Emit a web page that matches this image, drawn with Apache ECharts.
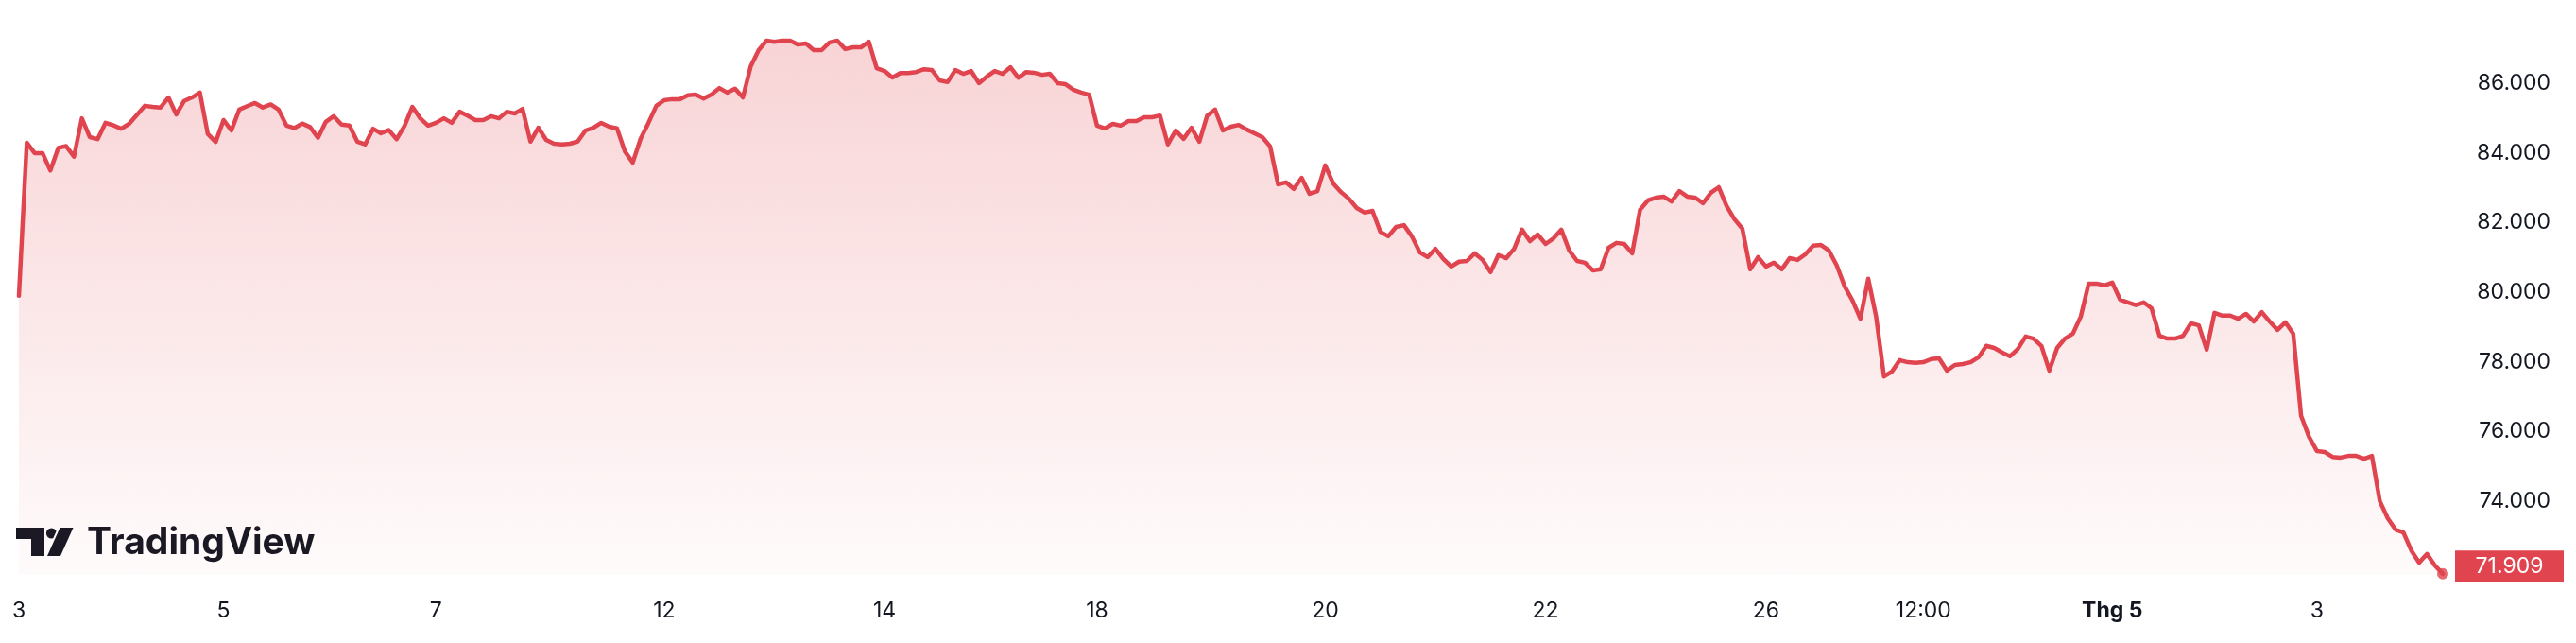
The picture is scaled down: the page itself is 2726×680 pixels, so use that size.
<!DOCTYPE html>
<html>
<head>
<meta charset="utf-8">
<script src="https://cdn.jsdelivr.net/npm/echarts@6/dist/echarts.min.js"></script>
<style>
html,body{margin:0;padding:0;background:#ffffff;}
#chart{width:2726px;height:680px;}
</style>
</head>
<body>
<div id="chart"></div>
<script>
// price series (thousand VND), equally spaced bars
const values = [
79.9, 84.3, 84.0, 84.0, 83.5, 84.15, 84.2, 83.9, 85.0, 84.46,
84.4, 84.87, 84.8, 84.7, 84.84, 85.1, 85.36, 85.33, 85.31, 85.6,
85.11, 85.5, 85.6, 85.74, 84.55, 84.32, 84.95, 84.65, 85.25, 85.35,
85.44, 85.31, 85.4, 85.25, 84.79, 84.72, 84.85, 84.75, 84.44, 84.9,
85.06, 84.82, 84.79, 84.33, 84.25, 84.7, 84.57, 84.66, 84.4, 84.78,
85.33, 85.0, 84.79, 84.87, 85.0, 84.87, 85.19, 85.08, 84.95, 84.95,
85.06, 85.0, 85.19, 85.14, 85.27, 84.33, 84.73, 84.38, 84.27, 84.25,
84.27, 84.33, 84.65, 84.73, 84.87, 84.76, 84.71, 84.05, 83.73, 84.41,
84.87, 85.36, 85.52, 85.55, 85.55, 85.66, 85.68, 85.57, 85.68, 85.87,
85.74, 85.85, 85.6, 86.5, 86.96, 87.23, 87.2, 87.23, 87.23, 87.12,
87.15, 86.96, 86.96, 87.18, 87.23, 86.99, 87.04, 87.04, 87.2, 86.44,
86.36, 86.17, 86.3, 86.3, 86.33, 86.41, 86.39, 86.09, 86.04, 86.39,
86.28, 86.36, 86.01, 86.2, 86.36, 86.28, 86.47, 86.17, 86.33, 86.31,
86.25, 86.28, 86.01, 85.98, 85.82, 85.74, 85.68, 84.79, 84.71, 84.84,
84.79, 84.92, 84.92, 85.03, 85.03, 85.08, 84.25, 84.65, 84.41, 84.73,
84.33, 85.08, 85.25, 84.65, 84.76, 84.81, 84.68, 84.57, 84.46, 84.19,
83.1, 83.16, 82.97, 83.29, 82.83, 82.91, 83.65, 83.13, 82.88, 82.69,
82.42, 82.29, 82.34, 81.74, 81.61, 81.88, 81.93, 81.61, 81.15, 81.01,
81.25, 80.96, 80.74, 80.88, 80.9, 81.12, 80.93, 80.58, 81.07, 80.98,
81.25, 81.8, 81.47, 81.66, 81.39, 81.55, 81.8, 81.2, 80.9, 80.85,
80.63, 80.66, 81.28, 81.42, 81.39, 81.12, 82.37, 82.64, 82.72, 82.75,
82.61, 82.91, 82.75, 82.72, 82.56, 82.86, 83.02, 82.48, 82.1, 81.83,
80.66, 81.01, 80.74, 80.85, 80.66, 80.98, 80.93, 81.09, 81.34, 81.36,
81.2, 80.77, 80.17, 79.76, 79.24, 80.39, 79.3, 77.58, 77.72, 78.05,
77.99, 77.97, 77.99, 78.08, 78.1, 77.75, 77.91, 77.94, 77.99, 78.13,
78.46, 78.4, 78.27, 78.16, 78.37, 78.73, 78.67, 78.46, 77.75, 78.4,
78.67, 78.81, 79.3, 80.25, 80.25, 80.2, 80.28, 79.79, 79.71, 79.63,
79.71, 79.54, 78.75, 78.67, 78.67, 78.75, 79.11, 79.05, 78.35, 79.41,
79.33, 79.33, 79.24, 79.38, 79.16, 79.43, 79.16, 78.92, 79.14, 78.81,
76.45, 75.85, 75.44, 75.41, 75.27, 75.25, 75.3, 75.3, 75.22, 75.3,
74.0, 73.51, 73.18, 73.1, 72.58, 72.23, 72.48, 72.15, 71.909
];
// x-axis tick labels and the bar index where each one sits
const tickLabels = ['3', '5', '7', '12', '14', '18', '20', '22', '26', '12:00', 'Thg 5', '3'];
const tickIndex  = [0, 26, 53, 82, 110, 137, 166, 194, 222, 242, 266, 292];
// y-axis tick values
const yTicks = [74, 76, 78, 80, 82, 84, 86];
const lastPrice = values[values.length - 1];

const categories = values.map(() => '');
tickIndex.forEach((idx, k) => { categories[idx] = tickLabels[k]; });

const RED = '#e0444e';
const TXT = '#131722';
const FONT = 'Inter, "Noto Sans", sans-serif';

const chart = echarts.init(document.getElementById('chart'), null, {renderer: 'canvas'});

chart.setOption({
  animation: false,
  backgroundColor: '#ffffff',
  grid: {left: 20, right: 141, top: 0, bottom: 72.8, containLabel: false},
  xAxis: {
    type: 'category',
    data: categories,
    boundaryGap: false,
    axisLine: {show: false},
    axisTick: {show: false},
    splitLine: {show: false},
    axisLabel: {
      interval: (i, v) => v !== '',
      margin: 27,
      color: TXT,
      fontFamily: FONT,
      fontSize: 23,
      formatter: v => v === 'Thg 5' ? '{b|' + v + '}' : v,
      rich: {b: {fontWeight: 'bold', fontSize: 23, fontFamily: FONT, color: TXT}}
    }
  },
  yAxis: {
    type: 'value',
    position: 'right',
    min: 71.9,
    max: 88.4,
    splitLine: {show: false},
    axisLine: {show: false},
    axisTick: {show: false},
    axisLabel: {
      customValues: yTicks,
      formatter: v => Number(v).toFixed(3),
      align: 'right',
      margin: 114,
      color: TXT,
      fontFamily: FONT,
      fontSize: 23
    }
  },
  series: [
    {
      type: 'line',
      data: values,
      showSymbol: false,
      symbol: 'none',
      clip: false,
      silent: true,
      lineStyle: {color: RED, width: 4.5, join: 'round', cap: 'round'},
      areaStyle: {
        color: {
          type: 'linear', x: 0, y: 0, x2: 0, y2: 1,
          colorStops: [
            {offset: 0, color: 'rgba(226,67,76,0.33)'},
            {offset: 1, color: 'rgba(226,67,76,0.03)'}
          ]
        }
      },
      markPoint: {
        silent: true,
        animation: false,
        data: [{
          coord: [values.length - 1, lastPrice],
          value: lastPrice,
          symbol: 'rect',
          symbolSize: [115, 33],
          symbolOffset: [70.5, -8],
          itemStyle: {color: RED},
          label: {
            show: true,
            position: 'inside',
            formatter: p => Number(p.value).toFixed(3),
            color: '#ffffff',
            fontFamily: FONT,
            fontSize: 23
          }
        }]
      }
    },
    {
      type: 'scatter',
      data: [[values.length - 1, lastPrice]],
      symbol: 'circle',
      symbolSize: 12,
      clip: false,
      silent: true,
      itemStyle: {color: RED}
    }
  ],
  graphic: [
    {
      type: 'group',
      silent: true,
      children: [
        {type: 'rect', shape: {x: 17, y: 558, width: 30, height: 12},
         style: {fill: TXT, stroke: '#fff', lineWidth: 4, strokeFirst: true}},
        {type: 'rect', shape: {x: 33, y: 558, width: 14, height: 30},
         style: {fill: TXT, stroke: '#fff', lineWidth: 4, strokeFirst: true}},
        {type: 'rect', shape: {x: 17, y: 558, width: 30, height: 12}, style: {fill: TXT}},
        {type: 'circle', shape: {cx: 54.5, cy: 564, r: 5.6},
         style: {fill: TXT, stroke: '#fff', lineWidth: 4, strokeFirst: true}},
        {type: 'polygon', shape: {points: [[63.5, 558], [77.5, 558], [64, 588], [50, 588]]},
         style: {fill: TXT, stroke: '#fff', lineWidth: 4, strokeFirst: true}},
        {type: 'text', x: 92, y: 574,
         style: {text: 'TradingView', fill: TXT, font: 'bold 39px Inter, "Noto Sans", sans-serif',
                 textVerticalAlign: 'middle', textAlign: 'left',
                 stroke: '#fff', lineWidth: 5, strokeFirst: true}}
      ]
    }
  ]
});
</script>
</body>
</html>
